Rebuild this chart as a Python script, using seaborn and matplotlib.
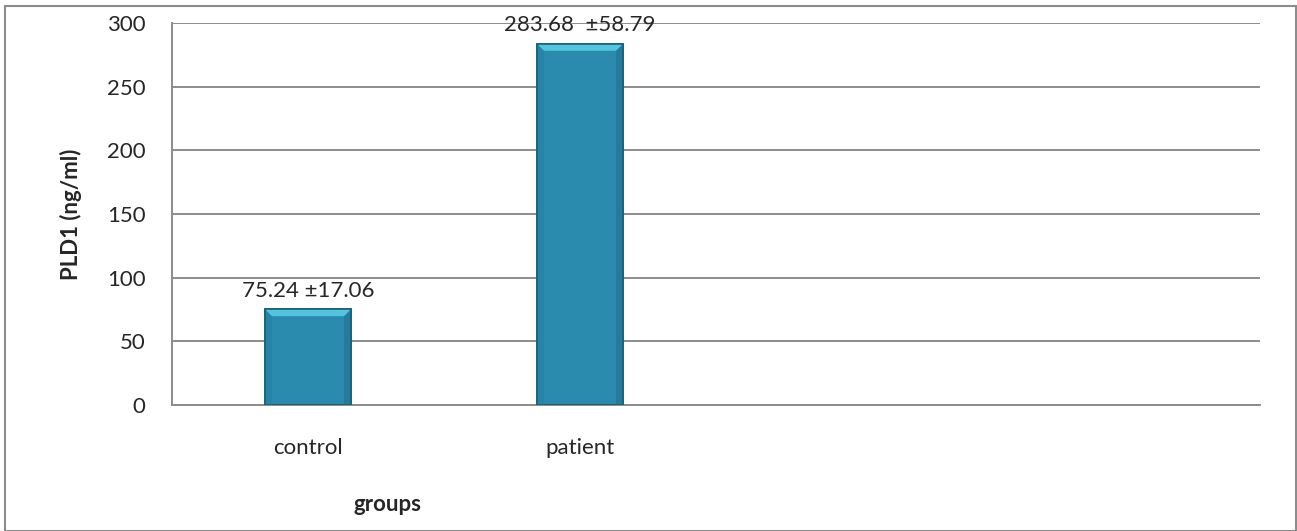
import matplotlib
matplotlib.use("Agg")
import pandas as pd
import matplotlib.pyplot as plt
import seaborn as sns
from matplotlib.patches import Rectangle, Polygon

# data
groups = ["control", "patient"]
means = [75.24, 283.68]
bar_labels = ["75.24 \u00b117.06", "283.68  \u00b158.79"]
n_slots = 4  # Excel chart leaves two empty category slots
y_ticks = [0, 50, 100, 150, 200, 250, 300]

df = pd.DataFrame({"group": groups, "mean": means})

sns.set_style("white")
plt.rcParams["font.family"] = ["Lato", "DejaVu Sans"]
FS = 16

fig = plt.figure(figsize=(12.97, 5.31), dpi=100)
ax = fig.add_axes([0.1326, 0.2373, 0.9715 - 0.1326, 0.9567 - 0.2373])

sns.barplot(data=df, x="group", y="mean", color="#2a8bae", width=0.316,
            edgecolor="#1b5f78", linewidth=1.2, saturation=1, ax=ax, zorder=3)

ax.set_xlim(-0.5, n_slots - 0.5)
ax.set_ylim(0, 300)
ax.set_yticks(y_ticks)
ax.set_yticklabels([str(t) for t in y_ticks], fontsize=FS)
ax.set_xticks(range(len(groups)))
ax.set_xticklabels(groups, fontsize=FS)
ax.tick_params(axis="y", length=0, pad=19)
ax.tick_params(axis="x", length=0, pad=24)

ax.grid(axis="y", color="#8c8c8c", linewidth=1.4, zorder=0)
ax.grid(axis="x", visible=False)
for side in ["top", "right"]:
    ax.spines[side].set_visible(False)
for side in ["left", "bottom"]:
    ax.spines[side].set_color("#8c8c8c")
    ax.spines[side].set_linewidth(1.4)

# bevel look: light top facet and slightly darker side facets, sized in pixels
fig.canvas.draw()
to_disp = ax.transData
to_data = ax.transData.inverted()
bev = 7
for bar in ax.patches:
    x0, y0 = to_disp.transform((bar.get_x(), 0))
    x1, y1 = to_disp.transform((bar.get_x() + bar.get_width(), bar.get_height()))
    top = [(x0, y1), (x1, y1), (x1 - bev, y1 - bev), (x0 + bev, y1 - bev)]
    left = [(x0, y1), (x0 + bev, y1 - bev), (x0 + bev, y0), (x0, y0)]
    right = [(x1, y1), (x1 - bev, y1 - bev), (x1 - bev, y0), (x1, y0)]
    for pts, col in [(left, "#2884a6"), (right, "#247c9c"), (top, "#55c4de")]:
        ax.add_patch(Polygon(to_data.transform(pts), closed=True, facecolor=col,
                             edgecolor="none", zorder=3.5))
    ax.add_patch(Rectangle((bar.get_x(), 0), bar.get_width(), bar.get_height(),
                           fill=False, edgecolor="#1b5f78", linewidth=1.2, zorder=3.6))

# value labels above bars
for i, (m, lab) in enumerate(zip(means, bar_labels)):
    ax.annotate(lab, (i, m), xytext=(0, 6), textcoords="offset points",
                ha="center", va="bottom", fontsize=FS, zorder=4)

ax.set_ylabel("PLD1 (ng/ml)", fontsize=FS, fontweight="bold")
ax.yaxis.set_label_coords(-0.083, 0.5)
ax.set_xlabel("groups", fontsize=FS, fontweight="bold")
ax.xaxis.set_label_coords(0.198, -0.233)

# chart area border
fig.patches.append(Rectangle((0.004, 0.0), 0.995, 0.988, transform=fig.transFigure,
                             fill=False, edgecolor="#8c8c8c", linewidth=1.5))

fig.savefig("out.png", dpi=100)
